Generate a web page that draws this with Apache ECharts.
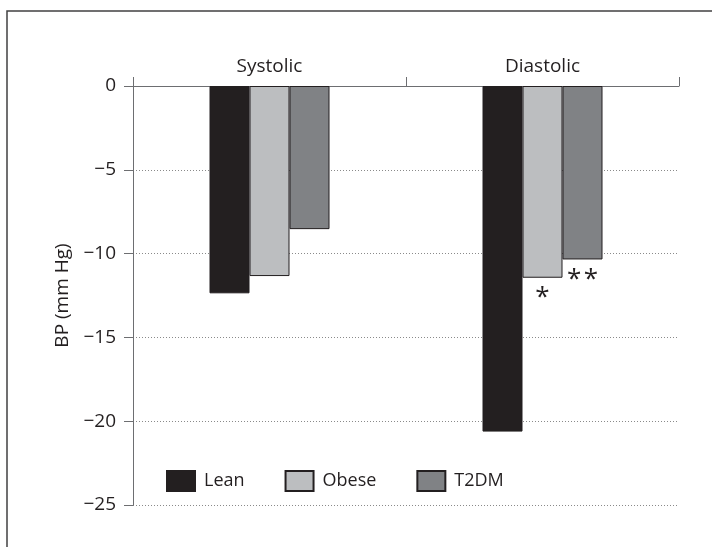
<!DOCTYPE html>
<html>
<head>
<meta charset="utf-8">
<script src="https://cdn.jsdelivr.net/npm/echarts@6/dist/echarts.min.js"></script>
<style>
html,body{margin:0;padding:0;background:#fff;}
#chart{width:712px;height:547px;}
</style>
</head>
<body>
<div id="chart"></div>
<script>
var categories = ['Systolic', 'Diastolic'];
var seriesNames = ['Lean', 'Obese', 'T2DM'];
var leanValues = [-12.37, -20.62];
var obeseValues = [-11.34, -11.44];
var t2dmValues = [-8.54, -10.35];
var leanMarks = ['', ''];
var obeseMarks = ['', '*'];
var t2dmMarks = ['', '*\u200A*'];
var yTicks = [0, -5, -10, -15, -20, -25];

var colors = ['#231f20', '#bcbec0', '#808285'];
var font = 'Open Sans';

function makeSeries(name, values, marks, color) {
  return {
    name: name,
    type: 'bar',
    data: values,
    barWidth: 40,
    barGap: '0%',
    itemStyle: { color: color, borderColor: '#231f20', borderWidth: 1 },
    label: {
      show: true,
      position: 'bottom',
      distance: 7,
      fontSize: 26,
      fontFamily: font,
      color: '#231f20',
      formatter: function (p) { return marks[p.dataIndex]; }
    }
  };
}

var chart = echarts.init(document.getElementById('chart'));
chart.setOption({
  animation: false,
  textStyle: { fontFamily: font },
  grid: { left: 133, right: 33, top: 86, bottom: 42 },
  legend: {
    left: 166, top: 470, padding: 0,
    itemWidth: 28, itemHeight: 20, itemGap: 40,
    icon: 'rect',
    textStyle: { fontSize: 18, fontFamily: font, color: '#231f20', padding: [0, 0, 0, 4] },
    data: seriesNames
  },
  xAxis: {
    type: 'category',
    position: 'top',
    data: categories,
    axisLine: { lineStyle: { color: '#6d6e71', width: 1 } },
    axisTick: { show: true, length: 9, lineStyle: { color: '#6d6e71' } },
    axisLabel: { fontSize: 19, color: '#231f20', margin: 10, fontFamily: font },
    splitLine: { show: false }
  },
  yAxis: {
    type: 'value',
    min: -25, max: 0, interval: 5,
    name: 'BP (mm Hg)',
    nameLocation: 'middle',
    nameGap: 57,
    nameTextStyle: { fontSize: 19, color: '#231f20', fontFamily: font },
    axisLine: { show: true, lineStyle: { color: '#6d6e71', width: 1 } },
    axisTick: { show: true, length: 9, lineStyle: { color: '#6d6e71' } },
    axisLabel: {
      fontSize: 19, color: '#231f20', margin: 17, fontFamily: font,
      formatter: function (v) { return v < 0 ? '\u2212' + Math.abs(v) : String(v); }
    },
    splitLine: { show: true, lineStyle: { color: '#8a8a8a', type: [1, 2], width: 1 } }
  },
  graphic: [{
    type: 'polyline',
    shape: { points: [[7, 547], [7, 11], [712, 11]] },
    style: { stroke: '#414042', lineWidth: 1.5, fill: null }
  }],
  series: [
    makeSeries(seriesNames[0], leanValues, leanMarks, colors[0]),
    makeSeries(seriesNames[1], obeseValues, obeseMarks, colors[1]),
    makeSeries(seriesNames[2], t2dmValues, t2dmMarks, colors[2])
  ]
});
</script>
</body>
</html>
